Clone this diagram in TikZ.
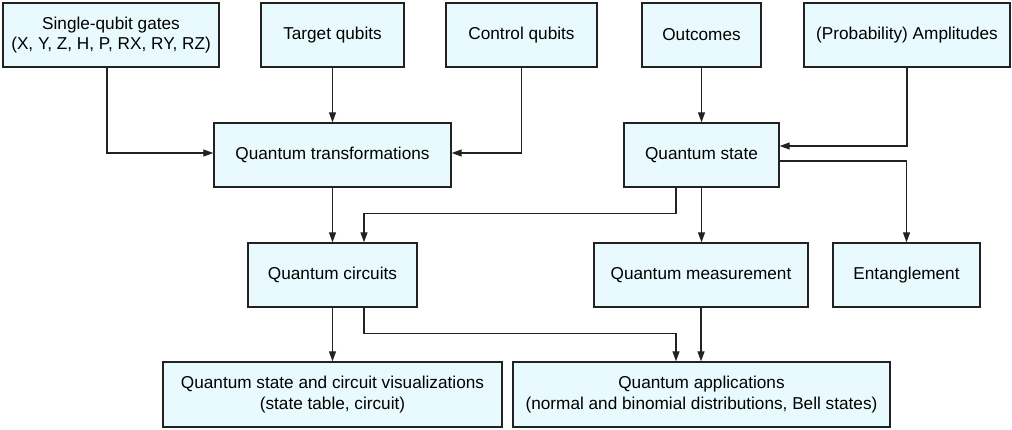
\documentclass[tikz,border=0pt]{standalone}
\usepackage{fontspec}
\setmainfont{Liberation Sans}
\usetikzlibrary{arrows.meta,calc}
\definecolor{boxfill}{HTML}{E8FAFD}
\definecolor{boxline}{HTML}{222222}
\tikzset{
  box/.style={draw=boxline, line width=1.4pt, fill=boxfill, minimum height=64pt,
    inner sep=0pt, align=center, font=\fontsize{17.2}{20.5}\selectfont},
  conn/.style={draw=boxline, line width=1.3pt, -{Triangle[length=10pt,width=7pt]}},
}
\begin{document}
\begin{tikzpicture}[x=1pt,y=-1pt]
\useasboundingbox (0,0) rectangle (1012,429);
\node[box, minimum width=216pt] (gates) at (111,35) {Single-qubit gates\\(X, Y, Z, H, P, RX, RY, RZ)};
\node[box, minimum width=143pt] (target) at (332.5,35) {Target qubits};
\node[box, minimum width=151pt] (control) at (521.5,35) {Control qubits};
\node[box, minimum width=119pt] (outc) at (701.5,35) {Outcomes};
\node[box, minimum width=206pt] (amp) at (907,35) {(Probability) Amplitudes};
\node[box, minimum width=237pt] (qt) at (332.5,155) {Quantum transformations};
\node[box, minimum width=155pt] (qs) at (701.5,155) {Quantum state};
\node[box, minimum width=169pt] (qc) at (332.5,275) {Quantum circuits};
\node[box, minimum width=214pt] (qm) at (701,275) {Quantum measurement};
\node[box, minimum width=147pt] (ent) at (906.5,275) {Entanglement};
\node[box, minimum width=339pt, minimum height=65pt] (vis) at (332.5,394.5) {Quantum state and circuit visualizations\\(state table, circuit)};
\node[box, minimum width=377pt, minimum height=65pt] (qa) at (701.5,394.5) {Quantum applications\\(normal and binomial distributions, Bell states)};

\draw[conn] ([xshift=-4pt]gates.south) |- ([yshift=2pt]qt.west);
\draw[conn] (target.south) -- (target.south |- qt.north);
\draw[conn] (control.south) |- ([yshift=2pt]qt.east);
\draw[conn] (outc.south) -- (outc.south |- qs.north);
\draw[conn] (amp.south) |- ([yshift=9pt]qs.east);
\draw[conn] ([yshift=-6pt]qs.east) -| (ent.north);
\draw[conn] ([xshift=-25.5pt]qs.south) -- ++(0,26) -| ([xshift=31.5pt]qc.north);
\draw[conn] (qs.south) -- (qs.south |- qm.north);
\draw[conn] (qt.south) -- (qc.north);
\draw[conn] (qc.south) -- (vis.north);
\draw[conn] ([xshift=31.5pt]qc.south) -- ++(0,26) -| ([xshift=-25.5pt]qa.north);
\draw[conn] (qm.south) -- (qm.south |- qa.north);
\end{tikzpicture}
\end{document}
